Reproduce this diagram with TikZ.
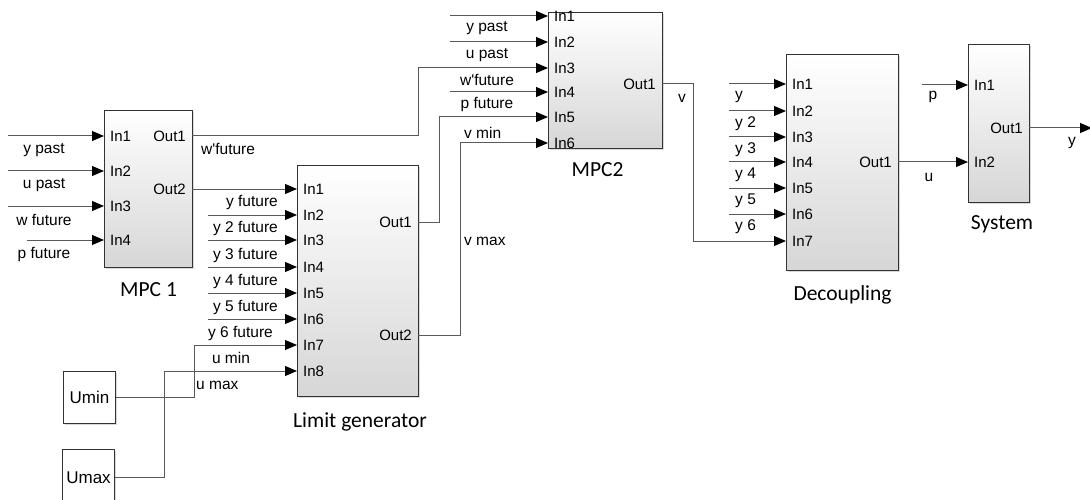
\documentclass[tikz,border=0pt]{standalone}
\usepackage{fontspec}
\setmainfont{Liberation Sans}
\newfontfamily\calfont{Carlito}
\usetikzlibrary{arrows.meta,shadows,positioning}
\newcommand{\ingangen}[3]{\foreach \n/\y in {#3} {\coordinate (#1-in\n) at (#2,\y); \node[poort,anchor=west] (#1-tin\n) at (#2+6,\y) {In\n};}}
\newcommand{\uitgangen}[3]{\foreach \n/\y in {#3} {\coordinate (#1-out\n) at (#2,\y); \node[poort,anchor=east] (#1-tout\n) at (#2-6,\y) {Out\n};}}
\tikzset{
  blok/.style={draw=black!80, line width=1.1pt, anchor=north west, inner sep=0pt,
    top color=white, bottom color=black!16,
    drop shadow={shadow xshift=1.5pt, shadow yshift=-1.5pt, opacity=0.3}},
  konst/.style={draw=black!80, line width=1.1pt, anchor=north west, inner sep=1pt, fill=white,
    drop shadow={shadow xshift=1.5pt, shadow yshift=-1.5pt, opacity=0.3},
    font=\fontsize{17}{20}\selectfont},
  poort/.style={font=\fontsize{15}{17}\selectfont, inner sep=0pt},
  sig/.style={font=\fontsize{15.5}{18}\selectfont, inner sep=0pt},
  titel/.style={font=\calfont\fontsize{21.5}{25}\selectfont, inner sep=0pt},
  lijn/.style={draw=black!65, line width=1pt},
  pijl/.style={lijn, -{Triangle[length=12pt, width=10pt, color=black]}},
}

\begin{document}
\begin{tikzpicture}[x=1pt,y=-1pt]
  \clip (0,0) rectangle (1090,500);

  \node[blok, minimum width=88pt,  minimum height=157pt] (mpcA) at (104,110) {};
  \node[blok, minimum width=121pt, minimum height=231pt] (lim)  at (297,165) {};
  \node[blok, minimum width=114pt, minimum height=136pt] (mpcB) at (548,12)  {};
  \node[blok, minimum width=112pt, minimum height=216pt] (dec)  at (786,54)  {};
  \node[blok, minimum width=61pt,  minimum height=158pt] (sys)  at (968,44)  {};
  \node[konst, minimum width=52pt, minimum height=52pt] (umin) at (63,371) {Umin};
  \node[konst, minimum width=52pt, minimum height=56pt] (umax) at (62,449) {Umax};

  \node[titel, below=14pt of mpcA]             (mpcA-naam) {MPC 1};
  \node[titel, below=15pt of lim, xshift=2pt]  (lim-naam)  {Limit generator};
  \node[titel, below=13pt of mpcB, xshift=-8pt] (mpcB-naam) {MPC2};
  \node[titel, below=14pt of dec]              (dec-naam)  {Decoupling};
  \node[titel, below=12pt of sys, xshift=3pt]  (sys-naam)  {System};

  \ingangen{mpcA}{104}{1/136,2/171,3/206,4/240}
  \uitgangen{mpcA}{192}{1/136,2/189}
  \ingangen{lim}{297}{1/189,2/215,3/240,4/267,5/293,6/319,7/345,8/371}
  \uitgangen{lim}{418}{1/222,2/335}
  \ingangen{mpcB}{548}{1/16,2/42,3/68,4/92,5/117,6/143}
  \uitgangen{mpcB}{662}{1/84}
  \ingangen{dec}{786}{1/84,2/111,3/137,4/162,5/188,6/214,7/241}
  \uitgangen{dec}{898}{1/162}
  \ingangen{sys}{968}{1/85,2/162}
  \uitgangen{sys}{1029}{1/128}

  \foreach \n/\x/\y/\t in {1/8/136/y past,2/8/171/u past,3/8/206/w future,4/27/240/p future} {
    \coordinate (mpcA-bron\n) at (\x,\y);
    \draw[pijl] (mpcA-bron\n) -- (mpcA-in\n);
    \node[sig] (mpcA-sig\n) at (44,\y+14) {\t};
  }
  \foreach \n/\y/\t in {2/215/y future,3/240/y 2 future,4/267/y 3 future,5/293/y 4 future,6/319/y 5 future} {
    \coordinate (lim-bron\n) at (208,\y);
    \draw[pijl] (lim-bron\n) -- (lim-in\n);
    \node[sig, anchor=east] (lim-sig\n) at (278,\y-12) {\t};
  }
  \node[sig, anchor=east] (lim-sig7) at (273,333) {y 6 future};
  \foreach \n/\y in {1/16,2/42,4/92} {
    \coordinate (mpcB-bron\n) at (450,\y);
    \draw[pijl] (mpcB-bron\n) -- (mpcB-in\n);
  }
  \foreach \t/\y [count=\i] in {y past/28,u past/55,w\textquotesingle future/80,p future/105}
    \node[sig] (mpcB-sig\i) at (487,\y) {\t};
  \foreach \n/\y/\t in {1/84/y,2/111/y 2,3/137/y 3,4/162/y 4,5/188/y 5,6/214/y 6} {
    \coordinate (dec-bron\n) at (729,\y);
    \draw[pijl] (dec-bron\n) -- (dec-in\n);
    \node[sig, anchor=west] (dec-sig\n) at (735,\y+13) {\t};
  }
  \coordinate (sys-bron1) at (922,85);
  \draw[pijl] (sys-bron1) -- (sys-in1);
  \coordinate (uit) at (1092,128);

  \draw[pijl] (mpcA-out1) -- ++(226,0) |- (mpcB-in3);
  \draw[pijl] (mpcA-out2) -- (lim-in1);
  \draw[pijl] (lim-out1) -- ++(21,0) |- (mpcB-in5);
  \draw[pijl] (lim-out2) -- ++(42,0) |- (mpcB-in6);
  \draw[pijl] (mpcB-out1) -- ++(31,0) |- (dec-in7);
  \draw[pijl] (dec-out1) -- (sys-in2);
  \draw[pijl] (umin.east) -- ++(78,0) |- (lim-in7);
  \draw[pijl] (umax.east) -- ++(49,0) |- (lim-in8);
  \draw[pijl] (sys-out1) -- (uit);

  \node[sig, anchor=west] (wf)   at (201,149) {w\textquotesingle future};
  \node[sig]              (umn)  at (231,358) {u min};
  \node[sig, anchor=west] (umx)  at (196,385) {u max};
  \node[sig, anchor=west] (vmn)  at (464,133) {v min};
  \node[sig, anchor=west] (vmx)  at (464,241) {v max};
  \node[sig]              (vl)   at (682,98)  {v};
  \node[sig]              (ul)   at (929,177) {u};
  \node[sig]              (pl)   at (933,97)  {p};
  \node[sig]              (yl)   at (1072,143) {y};
\end{tikzpicture}
\end{document}
